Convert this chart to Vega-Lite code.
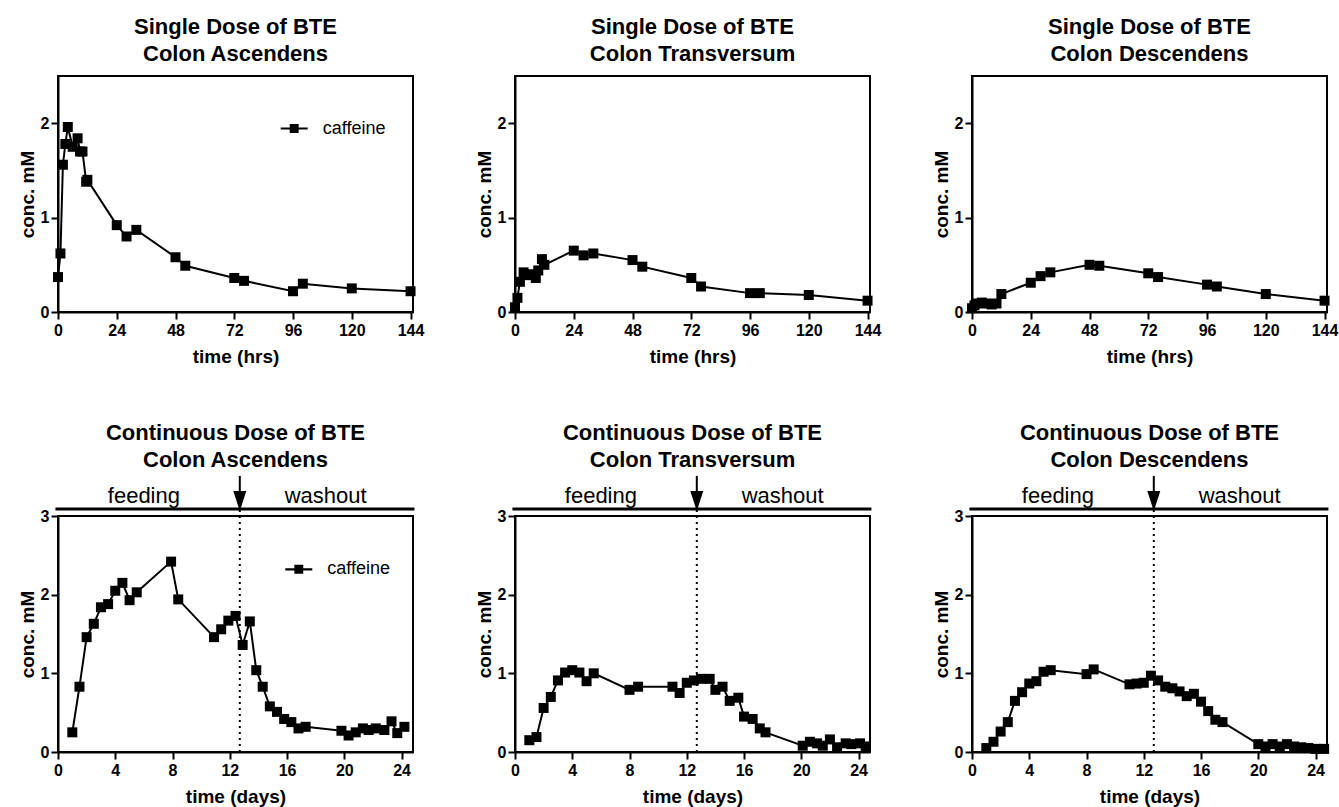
{
  "$schema": "https://vega.github.io/schema/vega-lite/v6.json",
  "background": "white",
  "padding": {"left": 17, "top": 15, "right": 5, "bottom": 5},
  "bounds": "flush",
  "columns": 3,
  "spacing": {"row": 204, "column": 102},
  "config": {
    "font": "Liberation Sans",
    "view": {"stroke": "black", "strokeWidth": 2},
    "axis": {
      "grid": false, "domainColor": "black", "domainWidth": 2,
      "tickColor": "black", "tickWidth": 2, "tickSize": 7,
      "labelFont": "Liberation Sans", "labelFontWeight": "bold", "labelFontSize": 16, "labelColor": "black",
      "titleFont": "Liberation Sans", "titleFontWeight": "bold", "titleFontSize": 19, "titleColor": "black",
      "labelOverlap": false
    },
    "axisX": {"labelFlush": false, "labelPadding": 3, "titlePadding": 9},
    "axisY": {"labelPadding": 2, "titlePadding": 3},
    "title": {"font": "Liberation Sans", "fontSize": 22, "fontWeight": "bold", "color": "black", "lineHeight": 27, "anchor": "middle", "frame": "group"},
    "legend": {"labelFont": "Liberation Sans", "labelFontSize": 18, "labelColor": "black"}
  },
  "resolve": {"scale": {"color": "independent"}, "legend": {"color": "independent"}},
  "datasets": {
    "sd_asc": [
      {"t": 0, "v": 0.37}, {"t": 1, "v": 0.62}, {"t": 2, "v": 1.56}, {"t": 3, "v": 1.78}, {"t": 4, "v": 1.96},
      {"t": 6, "v": 1.75}, {"t": 8, "v": 1.84}, {"t": 9, "v": 1.70}, {"t": 10, "v": 1.70}, {"t": 11.5, "v": 1.38},
      {"t": 12, "v": 1.40}, {"t": 24, "v": 0.92}, {"t": 28, "v": 0.80}, {"t": 32, "v": 0.87}, {"t": 48, "v": 0.58},
      {"t": 52, "v": 0.49}, {"t": 72, "v": 0.36}, {"t": 76, "v": 0.33}, {"t": 96, "v": 0.22}, {"t": 100, "v": 0.30},
      {"t": 120, "v": 0.25}, {"t": 144, "v": 0.22}
    ],
    "sd_trans": [
      {"t": 0, "v": 0.05}, {"t": 1, "v": 0.15}, {"t": 2, "v": 0.32}, {"t": 3.5, "v": 0.42}, {"t": 5.5, "v": 0.39},
      {"t": 7, "v": 0.40}, {"t": 8.5, "v": 0.36}, {"t": 9.5, "v": 0.44}, {"t": 11, "v": 0.56}, {"t": 12, "v": 0.50},
      {"t": 24, "v": 0.65}, {"t": 28, "v": 0.60}, {"t": 32, "v": 0.62}, {"t": 48, "v": 0.55}, {"t": 52, "v": 0.48},
      {"t": 72, "v": 0.36}, {"t": 76, "v": 0.27}, {"t": 96, "v": 0.20}, {"t": 100, "v": 0.20}, {"t": 120, "v": 0.18},
      {"t": 144, "v": 0.12}
    ],
    "sd_desc": [
      {"t": 0, "v": 0.04}, {"t": 1, "v": 0.07}, {"t": 2, "v": 0.09}, {"t": 4, "v": 0.10}, {"t": 6, "v": 0.09},
      {"t": 8, "v": 0.08}, {"t": 10, "v": 0.09}, {"t": 12, "v": 0.19}, {"t": 24, "v": 0.31}, {"t": 28, "v": 0.38},
      {"t": 32, "v": 0.42}, {"t": 48, "v": 0.50}, {"t": 52, "v": 0.49}, {"t": 72, "v": 0.41}, {"t": 76, "v": 0.37},
      {"t": 96, "v": 0.29}, {"t": 100, "v": 0.27}, {"t": 120, "v": 0.19}, {"t": 144, "v": 0.12}
    ],
    "cd_asc": [
      {"t": 1.0, "v": 0.25}, {"t": 1.5, "v": 0.83}, {"t": 2.0, "v": 1.46}, {"t": 2.5, "v": 1.63}, {"t": 3.0, "v": 1.84},
      {"t": 3.5, "v": 1.88}, {"t": 4.0, "v": 2.05}, {"t": 4.5, "v": 2.15}, {"t": 5.0, "v": 1.93}, {"t": 5.5, "v": 2.03},
      {"t": 7.9, "v": 2.42}, {"t": 8.4, "v": 1.94}, {"t": 10.9, "v": 1.46}, {"t": 11.4, "v": 1.56}, {"t": 11.9, "v": 1.67},
      {"t": 12.4, "v": 1.73}, {"t": 12.9, "v": 1.36}, {"t": 13.4, "v": 1.66}, {"t": 13.85, "v": 1.04}, {"t": 14.3, "v": 0.83},
      {"t": 14.8, "v": 0.58}, {"t": 15.3, "v": 0.51}, {"t": 15.8, "v": 0.42}, {"t": 16.3, "v": 0.38}, {"t": 16.8, "v": 0.30},
      {"t": 17.3, "v": 0.32}, {"t": 19.8, "v": 0.27}, {"t": 20.3, "v": 0.21}, {"t": 20.8, "v": 0.25}, {"t": 21.3, "v": 0.30},
      {"t": 21.7, "v": 0.28}, {"t": 22.2, "v": 0.30}, {"t": 22.8, "v": 0.28}, {"t": 23.3, "v": 0.39}, {"t": 23.7, "v": 0.24},
      {"t": 24.2, "v": 0.32}
    ],
    "cd_trans": [
      {"t": 1.0, "v": 0.15}, {"t": 1.5, "v": 0.19}, {"t": 2.0, "v": 0.56}, {"t": 2.5, "v": 0.70}, {"t": 3.0, "v": 0.91},
      {"t": 3.5, "v": 1.01}, {"t": 4.0, "v": 1.04}, {"t": 4.5, "v": 1.01}, {"t": 5.0, "v": 0.90}, {"t": 5.5, "v": 1.00},
      {"t": 8.0, "v": 0.79}, {"t": 8.6, "v": 0.83}, {"t": 11.0, "v": 0.83}, {"t": 11.5, "v": 0.75}, {"t": 12.0, "v": 0.88},
      {"t": 12.5, "v": 0.91}, {"t": 13.0, "v": 0.93}, {"t": 13.6, "v": 0.93}, {"t": 14.0, "v": 0.79}, {"t": 14.5, "v": 0.83},
      {"t": 15.0, "v": 0.65}, {"t": 15.6, "v": 0.69}, {"t": 16.0, "v": 0.45}, {"t": 16.6, "v": 0.42}, {"t": 17.1, "v": 0.30},
      {"t": 17.5, "v": 0.25}, {"t": 20.1, "v": 0.08}, {"t": 20.6, "v": 0.13}, {"t": 21.1, "v": 0.11}, {"t": 21.5, "v": 0.08},
      {"t": 22.0, "v": 0.16}, {"t": 22.5, "v": 0.06}, {"t": 23.1, "v": 0.11}, {"t": 23.5, "v": 0.10}, {"t": 24.1, "v": 0.11},
      {"t": 24.5, "v": 0.07}
    ],
    "cd_desc": [
      {"t": 1.0, "v": 0.05}, {"t": 1.5, "v": 0.13}, {"t": 2.0, "v": 0.26}, {"t": 2.5, "v": 0.38}, {"t": 3.0, "v": 0.65},
      {"t": 3.5, "v": 0.76}, {"t": 4.0, "v": 0.87}, {"t": 4.5, "v": 0.90}, {"t": 5.0, "v": 1.02}, {"t": 5.5, "v": 1.04},
      {"t": 8.0, "v": 0.99}, {"t": 8.5, "v": 1.05}, {"t": 11.0, "v": 0.86}, {"t": 11.5, "v": 0.87}, {"t": 12.0, "v": 0.88},
      {"t": 12.5, "v": 0.97}, {"t": 13.0, "v": 0.91}, {"t": 13.5, "v": 0.83}, {"t": 14.0, "v": 0.81}, {"t": 14.5, "v": 0.77},
      {"t": 15.0, "v": 0.71}, {"t": 15.5, "v": 0.74}, {"t": 16.0, "v": 0.64}, {"t": 16.5, "v": 0.52}, {"t": 17.0, "v": 0.41},
      {"t": 17.5, "v": 0.38}, {"t": 20.0, "v": 0.10}, {"t": 20.5, "v": 0.07}, {"t": 21.0, "v": 0.10}, {"t": 21.5, "v": 0.07},
      {"t": 22.0, "v": 0.10}, {"t": 22.5, "v": 0.07}, {"t": 23.0, "v": 0.06}, {"t": 23.5, "v": 0.05}, {"t": 24.0, "v": 0.04},
      {"t": 24.6, "v": 0.04}
    ],
    "annot_rule": [{"t": -0.18, "t2": 24.9, "v": 3.09}],
    "annot_dotted": [{"t": 12.7, "v": 0, "v2": 3.09}],
    "annot_shaft": [{"t": 12.7, "v": 3.2, "v2": 3.51}],
    "annot_head": [{"t": 12.7, "v": 3.19}],
    "annot_text": [{"t": 6, "v": 3.17, "label": "feeding"}, {"t": 18.7, "v": 3.17, "label": "washout"}]
  },
  "concat": [
    {
      "width": 355, "height": 236,
      "title": {"text": ["Single Dose of BTE", "Colon Ascendens"], "offset": 10},
      "data": {"name": "sd_asc"},
      "encoding": {
        "x": {"field": "t", "type": "quantitative", "scale": {"domain": [0, 145], "nice": false, "zero": false}, "axis": {"values": [0, 24, 48, 72, 96, 120, 144], "title": "time (hrs)"}},
        "y": {"field": "v", "type": "quantitative", "scale": {"domain": [0, 2.5], "nice": false}, "axis": {"values": [0, 1, 2], "title": "conc. mM"}}
      },
      "layer": [
        {"mark": {"type": "line", "color": "black", "strokeWidth": 2}},
        {"mark": {"type": "point", "shape": "square", "filled": true, "size": 100, "opacity": 1},
         "encoding": {"color": {"datum": "caffeine", "type": "nominal", "scale": {"domain": ["caffeine"], "range": ["black"]},
           "legend": {"title": null, "orient": "none", "legendX": 222.7, "legendY": 39, "padding": 0,
             "symbolType": "M-1,-0.08H1V0.08H-1Z M-0.33,-0.33H0.33V0.33H-0.33Z", "symbolSize": 729, "symbolStrokeWidth": 0, "symbolFillColor": "black", "labelOffset": 15}}}}
      ]
    },
    {
      "width": 355, "height": 236,
      "title": {"text": ["Single Dose of BTE", "Colon Transversum"], "offset": 10},
      "data": {"name": "sd_trans"},
      "encoding": {
        "x": {"field": "t", "type": "quantitative", "scale": {"domain": [0, 145], "nice": false, "zero": false}, "axis": {"values": [0, 24, 48, 72, 96, 120, 144], "title": "time (hrs)"}},
        "y": {"field": "v", "type": "quantitative", "scale": {"domain": [0, 2.5], "nice": false}, "axis": {"values": [0, 1, 2], "title": "conc. mM"}}
      },
      "layer": [
        {"mark": {"type": "line", "color": "black", "strokeWidth": 2}},
        {"mark": {"type": "point", "shape": "square", "filled": true, "size": 100, "opacity": 1, "color": "black"}}
      ]
    },
    {
      "width": 355, "height": 236,
      "title": {"text": ["Single Dose of BTE", "Colon Descendens"], "offset": 10},
      "data": {"name": "sd_desc"},
      "encoding": {
        "x": {"field": "t", "type": "quantitative", "scale": {"domain": [0, 145], "nice": false, "zero": false}, "axis": {"values": [0, 24, 48, 72, 96, 120, 144], "title": "time (hrs)"}},
        "y": {"field": "v", "type": "quantitative", "scale": {"domain": [0, 2.5], "nice": false}, "axis": {"values": [0, 1, 2], "title": "conc. mM"}}
      },
      "layer": [
        {"mark": {"type": "line", "color": "black", "strokeWidth": 2}},
        {"mark": {"type": "point", "shape": "square", "filled": true, "size": 100, "opacity": 1, "color": "black"}}
      ]
    },
    {
      "width": 355, "height": 236,
      "title": {"text": ["Continuous Dose of BTE", "Colon Ascendens"], "offset": 3},
      "encoding": {
        "x": {"field": "t", "type": "quantitative", "scale": {"domain": [0, 24.8], "nice": false, "zero": false}, "axis": {"values": [0, 4, 8, 12, 16, 20, 24], "title": "time (days)"}},
        "y": {"field": "v", "type": "quantitative", "scale": {"domain": [0, 3], "nice": false}, "axis": {"values": [0, 1, 2, 3], "title": "conc. mM"}}
      },
      "layer": [
        {"data": {"name": "annot_dotted"}, "mark": {"type": "rule", "color": "black", "strokeWidth": 2, "strokeDash": [2, 4]}, "encoding": {"y2": {"field": "v2"}}},
        {"data": {"name": "annot_rule"}, "mark": {"type": "rule", "color": "black", "strokeWidth": 3}, "encoding": {"x2": {"field": "t2"}}},
        {"data": {"name": "annot_shaft"}, "mark": {"type": "rule", "color": "black", "strokeWidth": 2}, "encoding": {"y2": {"field": "v2"}}},
        {"data": {"name": "annot_head"}, "mark": {"type": "point", "shape": "M-0.65,-1L0.65,-1L0,1Z", "filled": true, "size": 400, "opacity": 1, "color": "black"}},
        {"data": {"name": "annot_text"}, "mark": {"type": "text", "fontSize": 22, "align": "center", "baseline": "alphabetic", "color": "black"}, "encoding": {"text": {"field": "label"}}},
        {"data": {"name": "cd_asc"}, "mark": {"type": "line", "color": "black", "strokeWidth": 2}},
        {"data": {"name": "cd_asc"}, "mark": {"type": "point", "shape": "square", "filled": true, "size": 100, "opacity": 1},
         "encoding": {"color": {"datum": "caffeine", "type": "nominal", "scale": {"domain": ["caffeine"], "range": ["black"]},
           "legend": {"title": null, "orient": "none", "legendX": 227.3, "legendY": 39.8, "padding": 0,
             "symbolType": "M-1,-0.08H1V0.08H-1Z M-0.33,-0.33H0.33V0.33H-0.33Z", "symbolSize": 729, "symbolStrokeWidth": 0, "symbolFillColor": "black", "labelOffset": 15}}}}
      ]
    },
    {
      "width": 355, "height": 236,
      "title": {"text": ["Continuous Dose of BTE", "Colon Transversum"], "offset": 3},
      "encoding": {
        "x": {"field": "t", "type": "quantitative", "scale": {"domain": [0, 24.8], "nice": false, "zero": false}, "axis": {"values": [0, 4, 8, 12, 16, 20, 24], "title": "time (days)"}},
        "y": {"field": "v", "type": "quantitative", "scale": {"domain": [0, 3], "nice": false}, "axis": {"values": [0, 1, 2, 3], "title": "conc. mM"}}
      },
      "layer": [
        {"data": {"name": "annot_dotted"}, "mark": {"type": "rule", "color": "black", "strokeWidth": 2, "strokeDash": [2, 4]}, "encoding": {"y2": {"field": "v2"}}},
        {"data": {"name": "annot_rule"}, "mark": {"type": "rule", "color": "black", "strokeWidth": 3}, "encoding": {"x2": {"field": "t2"}}},
        {"data": {"name": "annot_shaft"}, "mark": {"type": "rule", "color": "black", "strokeWidth": 2}, "encoding": {"y2": {"field": "v2"}}},
        {"data": {"name": "annot_head"}, "mark": {"type": "point", "shape": "M-0.65,-1L0.65,-1L0,1Z", "filled": true, "size": 400, "opacity": 1, "color": "black"}},
        {"data": {"name": "annot_text"}, "mark": {"type": "text", "fontSize": 22, "align": "center", "baseline": "alphabetic", "color": "black"}, "encoding": {"text": {"field": "label"}}},
        {"data": {"name": "cd_trans"}, "mark": {"type": "line", "color": "black", "strokeWidth": 2}},
        {"data": {"name": "cd_trans"}, "mark": {"type": "point", "shape": "square", "filled": true, "size": 100, "opacity": 1, "color": "black"}}
      ]
    },
    {
      "width": 355, "height": 236,
      "title": {"text": ["Continuous Dose of BTE", "Colon Descendens"], "offset": 3},
      "encoding": {
        "x": {"field": "t", "type": "quantitative", "scale": {"domain": [0, 24.8], "nice": false, "zero": false}, "axis": {"values": [0, 4, 8, 12, 16, 20, 24], "title": "time (days)"}},
        "y": {"field": "v", "type": "quantitative", "scale": {"domain": [0, 3], "nice": false}, "axis": {"values": [0, 1, 2, 3], "title": "conc. mM"}}
      },
      "layer": [
        {"data": {"name": "annot_dotted"}, "mark": {"type": "rule", "color": "black", "strokeWidth": 2, "strokeDash": [2, 4]}, "encoding": {"y2": {"field": "v2"}}},
        {"data": {"name": "annot_rule"}, "mark": {"type": "rule", "color": "black", "strokeWidth": 3}, "encoding": {"x2": {"field": "t2"}}},
        {"data": {"name": "annot_shaft"}, "mark": {"type": "rule", "color": "black", "strokeWidth": 2}, "encoding": {"y2": {"field": "v2"}}},
        {"data": {"name": "annot_head"}, "mark": {"type": "point", "shape": "M-0.65,-1L0.65,-1L0,1Z", "filled": true, "size": 400, "opacity": 1, "color": "black"}},
        {"data": {"name": "annot_text"}, "mark": {"type": "text", "fontSize": 22, "align": "center", "baseline": "alphabetic", "color": "black"}, "encoding": {"text": {"field": "label"}}},
        {"data": {"name": "cd_desc"}, "mark": {"type": "line", "color": "black", "strokeWidth": 2}},
        {"data": {"name": "cd_desc"}, "mark": {"type": "point", "shape": "square", "filled": true, "size": 100, "opacity": 1, "color": "black"}}
      ]
    }
  ]
}
